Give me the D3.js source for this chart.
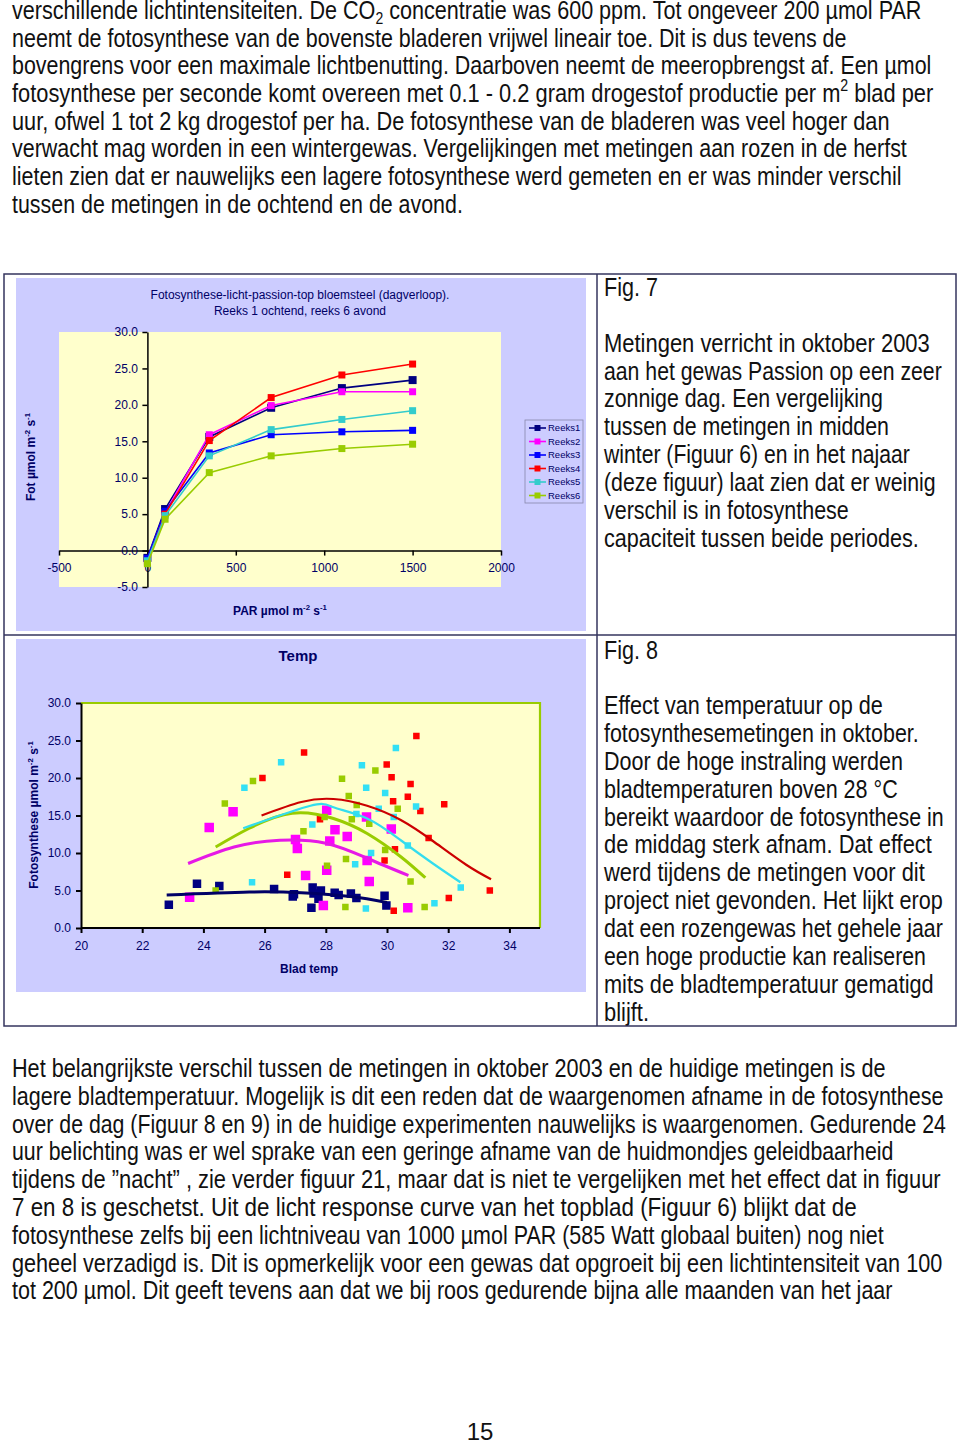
<!DOCTYPE html>
<html><head><meta charset="utf-8">
<script src="https://cdn.jsdelivr.net/npm/d3@7"></script>
<style>body{margin:0;background:#fff}svg{display:block}</style>
</head><body><svg id="c" width="960" height="1442"></svg>
<script>
// ---------- Data: Fig. 7 (light response) ----------
const parLevels = [0, 100, 350, 700, 1100, 1500];
const reeksNames = ["Reeks1","Reeks2","Reeks3","Reeks4","Reeks5","Reeks6"];
const reeks1 = [-1.0, 5.7, 15.6, 19.6, 22.3, 23.4];
const reeks2 = [-1.2, 5.2, 15.9, 19.9, 21.8, 21.8];
const reeks3 = [-1.1, 5.4, 13.4, 15.9, 16.3, 16.5];
const reeks4 = [-1.6, 5.0, 15.1, 21.0, 24.1, 25.6];
const reeks5 = [-1.4, 4.8, 13.0, 16.6, 18.0, 19.2];
const reeks6 = [-1.8, 4.3, 10.7, 13.0, 14.0, 14.6];
const parTicks = [-500, 0, 500, 1000, 1500, 2000];
const fotTicks = [-5, 0, 5, 10, 15, 20, 25, 30];

// ---------- Data: Fig. 8 (temperature) [bladtemp, fotosynthese] ----------
const tempNavy = [[22.87,3.1],[23.79,5.9],[24.52,5.6],[26.31,5.2],[26.92,4.2],[26.96,4.5],[27.57,5.4],[27.84,5.0],[27.6,4.6],[27.76,3.9],[27.53,2.7],[28.29,4.7],[28.42,4.4],[28.82,4.6],[29.0,4.0],[29.92,4.3],[29.98,3.0]];
const tempMagenta = [[23.55,4.1],[24.19,13.4],[24.97,15.5],[27.01,11.8],[27.07,10.6],[27.34,7.0],[27.92,3.0],[28.03,15.7],[28.03,7.7],[28.13,11.6],[28.30,13.1],[28.7,12.2],[29.33,14.8],[29.35,9.0],[29.42,6.2],[30.14,13.2],[30.68,2.7]];
const tempRed = [[25.93,20.0],[26.74,7.1],[27.29,23.4],[27.81,14.5],[29.92,9.0],[29.99,21.8],[30.15,20.1],[30.20,16.9],[30.22,2.3],[30.26,10.5],[30.68,17.5],[30.77,19.2],[30.96,25.6],[31.09,15.6],[31.36,12.0],[31.87,16.5],[32.02,4.0],[33.36,5.0]];
const tempCyan = [[25.34,18.7],[25.59,6.1],[26.54,22.1],[27.56,13.8],[28.96,8.5],[29.0,15.2],[29.18,21.7],[29.31,2.6],[29.32,18.7],[29.48,10.0],[29.73,15.9],[29.94,18.0],[30.22,14.8],[30.29,24.0],[30.68,11.0],[30.95,16.2],[31.55,3.3],[32.41,5.4]];
const tempGreen = [[24.40,5.0],[24.70,16.6],[25.62,19.6],[27.27,12.9],[27.96,14.8],[28.04,8.3],[28.53,19.9],[28.64,2.8],[28.66,9.2],[28.75,17.6],[28.85,14.5],[29.01,16.4],[29.42,13.9],[29.62,21.0],[29.94,10.4],[30.35,15.9],[30.77,6.2],[31.23,2.8]];
// trend lines
const trendNavy = [[22.8,4.4],[25.5,4.8],[27.2,4.7],[28.8,4.2],[30.0,3.4]];
const trendMagenta = [[23.5,8.6],[25.0,10.8],[26.5,11.7],[28.0,11.3],[29.35,9.3],[30.7,7.0]];
const trendGreen = [[24.4,10.8],[25.5,13.3],[26.9,15.3],[28.25,14.6],[29.35,12.6],[30.45,9.5],[31.25,6.7]];
const trendCyan = [[25.3,13.3],[27.5,16.3],[28.25,16.1],[29.35,14.6],[30.45,11.7],[31.5,8.6],[32.4,6.1]];
const trendRed = [[25.9,15.0],[27.2,16.8],[28.25,17.2],[29.35,16.3],[30.45,14.4],[31.5,11.6],[32.6,8.4],[33.4,6.5]];
const tempTicksX = [20, 22, 24, 26, 28, 30, 32, 34];
const tempTicksY = [0, 5, 10, 15, 20, 25, 30];

// ---------- Text ----------
const topLines = [
 ["verschillende lichtintensiteiten. De CO_{2} concentratie was 600 ppm. Tot ongeveer 200 µmol PAR", 922],
 ["neemt de fotosynthese van de bovenste bladeren vrijwel lineair toe. Dit is dus tevens de", 847],
 ["bovengrens voor een maximale lichtbenutting. Daarboven neemt de meeropbrengst af. Een µmol", 932],
 ["fotosynthese per seconde komt overeen met 0.1 - 0.2 gram drogestof productie per m^{2} blad per", 934],
 ["uur, ofwel 1 tot 2 kg drogestof per ha. De fotosynthese van de bladeren was veel hoger dan", 890],
 ["verwacht mag worden in een wintergewas. Vergelijkingen met metingen aan rozen in de herfst", 907],
 ["lieten zien dat er nauwelijks een lagere fotosynthese werd gemeten en er was minder verschil", 902],
 ["tussen de metingen in de ochtend en de avond.", 463]
];
const fig7Lines = [
 ["Metingen verricht in oktober 2003", 930],
 ["aan het gewas Passion op een zeer", 942],
 ["zonnige dag. Een vergelijking", 883],
 ["tussen de metingen in midden", 889],
 ["winter (Figuur 6) en in het najaar", 910],
 ["(deze figuur) laat zien dat er weinig", 936],
 ["verschil is in fotosynthese", 849],
 ["capaciteit tussen beide periodes.", 919]
];
const fig8Lines = [
 ["Effect van temperatuur op de", 883],
 ["fotosynthesemetingen in oktober.", 919],
 ["Door de hoge instraling werden", 903],
 ["bladtemperaturen boven 28 °C", 898],
 ["bereikt waardoor de fotosynthese in", 944],
 ["de middag sterk afnam. Dat effect", 932],
 ["werd tijdens de metingen voor dit", 925],
 ["project niet gevonden. Het lijkt erop", 943],
 ["dat een rozengewas het gehele jaar", 943],
 ["een hoge productie kan realiseren", 926],
 ["mits de bladtemperatuur gematigd", 934],
 ["blijft.", 649]
];
const bottomLines = [
 ["Het belangrijkste verschil tussen de metingen in oktober 2003 en de huidige metingen is de", 886],
 ["lagere bladtemperatuur. Mogelijk is dit een reden dat de waargenomen afname in de fotosynthese", 944],
 ["over de dag (Figuur 8 en 9) in de huidige experimenten nauwelijks is waargenomen. Gedurende 24", 946],
 ["uur belichting was er wel sprake van een geringe afname van de huidmondjes geleidbaarheid", 894],
 ["tijdens de \u201dnacht\u201d , zie verder figuur 21, maar dat is niet te vergelijken met het effect dat in figuur", 941],
 ["7 en 8 is geschetst. Uit de licht response curve van het topblad (Figuur 6) blijkt dat de", 857],
 ["fotosynthese zelfs bij een lichtniveau van 1000 µmol PAR (585 Watt globaal buiten) nog niet", 884],
 ["geheel verzadigd is. Dit is opmerkelijk voor een gewas dat opgroeit bij een lichtintensiteit van 100", 943],
 ["tot 200 µmol. Dit geeft tevens aan dat we bij roos gedurende bijna alle maanden van het jaar", 893]
];

// ---------- Drawing ----------
const svg = d3.select("#c");
svg.append("rect").attr("width",960).attr("height",1442).attr("fill","#fff");
const bodyFont = "'Liberation Sans Narrow','Liberation Sans',Arial,sans-serif";
const chartFont = "'Liberation Sans',Arial,sans-serif";
const navyText = "#000066";

function rich(g, str, x, y, size, right, opts={}) {
  const t = g.append("text").attr("x", x).attr("y", y).attr("font-size", size)
    .attr("font-family", opts.font || bodyFont).attr("fill", opts.fill || "#111");
  if (opts.weight) t.attr("font-weight", opts.weight);
  if (opts.anchor) t.attr("text-anchor", opts.anchor);
  str.split(/(\^\{[^}]*\}|_\{[^}]*\})/).forEach(p => {
    if (!p) return;
    if (p.startsWith("^{")) t.append("tspan").attr("font-size", size*0.65).attr("baseline-shift", size*0.42).text(p.slice(2,-1));
    else if (p.startsWith("_{")) t.append("tspan").attr("font-size", size*0.65).attr("baseline-shift", -size*0.22).text(p.slice(2,-1));
    else t.append("tspan").text(p);
  });
  if (right) {
    const w = t.node().getComputedTextLength();
    const k = (right - x) / w;
    t.attr("transform", `translate(${x},0) scale(${k},1) translate(${-x},0)`);
  }
  return t;
}

const txt = svg.append("g");
topLines.forEach((l,i) => rich(txt, l[0], 12, 19 + i*27.7, 25, l[1]));
rich(txt, "Fig. 7", 604, 296.5, 25, 658);
fig7Lines.forEach((l,i) => rich(txt, l[0], 604, 351.7 + i*27.9, 25, l[1]));
rich(txt, "Fig. 8", 604, 659, 25, 658);
fig8Lines.forEach((l,i) => rich(txt, l[0], 604, 714 + i*27.9, 25, l[1]));
bottomLines.forEach((l,i) => rich(txt, l[0], 12, 1077 + i*27.8, 25, l[1]));
rich(txt, "15", 480, 1440, 24, null, {anchor:"middle"});

// table frame
const frame = svg.append("g").attr("stroke","#34345e").attr("stroke-width",1.5).attr("fill","none");
frame.append("rect").attr("x",4).attr("y",274).attr("width",952).attr("height",752);
frame.append("line").attr("x1",597).attr("x2",597).attr("y1",274).attr("y2",1026);
frame.append("line").attr("x1",4).attr("x2",956).attr("y1",635).attr("y2",635);

// ---------- Chart 1 ----------
const c1 = svg.append("g").attr("font-family", chartFont);
c1.append("rect").attr("x",16).attr("y",278).attr("width",570).attr("height",353).attr("fill","#ccccff");
const x1 = d3.scaleLinear().domain([-500,2000]).range([59,501]);
const y1 = d3.scaleLinear().domain([-5,30]).range([587,332]);
c1.append("rect").attr("x",x1(-500)).attr("y",y1(30)).attr("width",x1(2000)-x1(-500)).attr("height",y1(-5)-y1(30)).attr("fill","#ffffcc");

c1.append("text").attr("x",300).attr("y",299).attr("text-anchor","middle").attr("font-size",12).attr("fill",navyText)
  .text("Fotosynthese-licht-passion-top bloemsteel (dagverloop).");
c1.append("text").attr("x",300).attr("y",314.5).attr("text-anchor","middle").attr("font-size",12).attr("fill",navyText)
  .text("Reeks 1 ochtend, reeks 6 avond");

const ax1 = c1.append("g").attr("transform",`translate(0,${y1(0)})`)
  .call(d3.axisBottom(x1).tickValues(parTicks).tickSize(5).tickSizeOuter(0).tickPadding(8).tickFormat(d => String(d)));
const ay1 = c1.append("g").attr("transform",`translate(${x1(0)},0)`)
  .call(d3.axisLeft(y1).tickValues(fotTicks).tickSize(5).tickSizeOuter(0).tickPadding(4.5).tickFormat(d => d.toFixed(1)));
[ax1, ay1].forEach(a => {
  a.selectAll("path,line").attr("stroke","#000").attr("stroke-width",1.5);
  a.selectAll("text").attr("font-size",12).attr("fill",navyText).attr("font-family",chartFont);
});

const series1 = [reeks1,reeks2,reeks3,reeks4,reeks5,reeks6];
const colors1 = ["#000080","#ff00ff","#0000ff","#ff0000","#33cccc","#99cc00"];
const line1 = d3.line().x((d,i) => x1(parLevels[i])).y(d => y1(d));
series1.forEach((s,k) => {
  const g = c1.append("g");
  g.append("path").attr("d", line1(s)).attr("fill","none").attr("stroke",colors1[k]).attr("stroke-width",1.6);
  const sz = k === 0 ? 8 : 7;
  g.selectAll("rect").data(s).join("rect")
    .attr("x",(d,i) => x1(parLevels[i]) - sz/2).attr("y", d => y1(d) - sz/2)
    .attr("width",sz).attr("height",sz).attr("fill",colors1[k]);
});

// axis labels chart 1
rich(c1, "Fot µmol m^{-2} s^{-1}", 0, 0, 12, null, {font:chartFont, weight:"bold", fill:navyText, anchor:"middle"})
  .attr("transform","translate(35,457) rotate(-90)");
rich(c1, "PAR µmol m^{-2} s^{-1}", 280, 615, 12, null, {font:chartFont, weight:"bold", fill:navyText, anchor:"middle"});

// legend
const lg = c1.append("g");
lg.append("rect").attr("x",525).attr("y",420).attr("width",58).attr("height",83).attr("fill","#ccccff").attr("stroke","#8888aa").attr("stroke-width",0.8);
reeksNames.forEach((n,k) => {
  const cy = 428 + k*13.5;
  lg.append("line").attr("x1",529).attr("x2",546).attr("y1",cy).attr("y2",cy).attr("stroke",colors1[k]).attr("stroke-width",1.6);
  lg.append("rect").attr("x",534.5).attr("y",cy-3).attr("width",6).attr("height",6).attr("fill",colors1[k]);
  lg.append("text").attr("x",548).attr("y",cy+3.4).attr("font-size",9.5).attr("fill",navyText).text(n);
});

// ---------- Chart 2 ----------
const c2 = svg.append("g").attr("font-family", chartFont);
c2.append("rect").attr("x",16).attr("y",639).attr("width",570).attr("height",353).attr("fill","#ccccff");
const x2 = d3.scaleLinear().domain([20,35]).range([81,540]);
const y2 = d3.scaleLinear().domain([0,30]).range([928,703]);
c2.append("rect").attr("x",x2(20)).attr("y",y2(30)).attr("width",x2(35)-x2(20)).attr("height",y2(0)-y2(30)).attr("fill","#ffffcc");
c2.append("path").attr("d",`M${x2(20)},${y2(30)}H${x2(35)}V${y2(0)}`).attr("fill","none").attr("stroke","#99cc00").attr("stroke-width",2.2);

c2.append("text").attr("x",298).attr("y",661).attr("text-anchor","middle").attr("font-size",15).attr("font-weight","bold").attr("fill",navyText).text("Temp");

const pts = [[tempNavy,"#000080",8.5],[tempMagenta,"#ff00ff",9.5],[tempRed,"#ff0000",6.5],[tempCyan,"#33e0f5",6.5],[tempGreen,"#99cc00",6.5]];
pts.forEach(([data,col,sz]) => {
  c2.append("g").selectAll("rect").data(data).join("rect")
    .attr("x", d => x2(d[0]) - sz/2).attr("y", d => y2(d[1]) - sz/2)
    .attr("width", sz).attr("height", sz).attr("fill", col);
});
const tline = d3.line().x(d => x2(d[0])).y(d => y2(d[1])).curve(d3.curveNatural);
[[trendNavy,"#000066",3],[trendMagenta,"#e619e6",3],[trendGreen,"#99cc00",3],[trendCyan,"#33ddee",2.2],[trendRed,"#cc0000",2.2]]
  .forEach(([d,col,w]) => c2.append("path").attr("d", tline(d)).attr("fill","none").attr("stroke",col).attr("stroke-width",w));

const ax2 = c2.append("g").attr("transform",`translate(0,${y2(0)})`)
  .call(d3.axisBottom(x2).tickValues(tempTicksX).tickSize(5).tickSizeOuter(0).tickPadding(8.5).tickFormat(d => String(d)));
ax2.select(".domain").attr("d", `M${x2(20)},0H${x2(35)}`);
const ay2 = c2.append("g").attr("transform",`translate(${x2(20)},0)`)
  .call(d3.axisLeft(y2).tickValues(tempTicksY).tickSize(5).tickSizeOuter(0).tickPadding(5).tickFormat(d => d.toFixed(1)));
[ax2, ay2].forEach(a => {
  a.selectAll("path,line").attr("stroke","#000").attr("stroke-width",2);
  a.selectAll("text").attr("font-size",12).attr("fill",navyText).attr("font-family",chartFont);
});

rich(c2, "Fotosynthese µmol m^{-2} s^{-1}", 0, 0, 12, null, {font:chartFont, weight:"bold", fill:navyText, anchor:"middle"})
  .attr("transform","translate(38,815) rotate(-90)");
rich(c2, "Blad temp", 309, 973, 12, null, {font:chartFont, weight:"bold", fill:navyText, anchor:"middle"});
</script></body></html>
